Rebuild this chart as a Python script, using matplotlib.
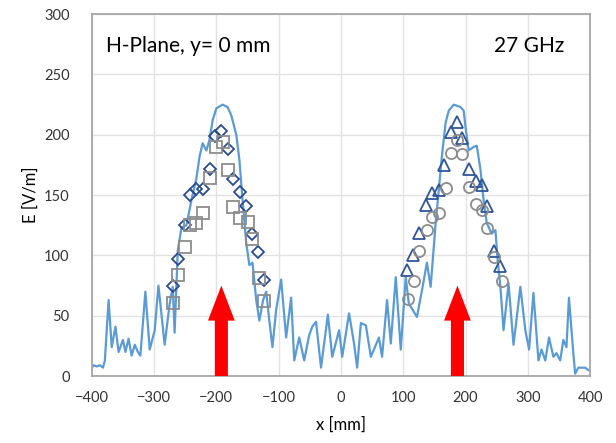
import numpy
from matplotlib import pyplot

# simulated field (blue line)
sim_x = [-400, -397, -392, -387, -382, -379, -373, -368, -362, -357, -350, -346,
         -341, -336, -331, -326, -322, -314, -307, -299, -293, -283, -275, -270,
         -267, -262, -256, -248, -240, -232, -227, -222, -216, -211, -206, -200,
         -190, -182, -176, -168, -163, -158, -152, -147, -142, -136, -131, -125,
         -120, -115, -110, -104, -96, -88, -80, -75, -67, -59, -51, -46,
         -40, -32, -21, -14, -3, 2, 13, 21, 26, 32, 40, 48,
         61, 66, 74, 80, 88, 96, 104, 109, 115, 122, 130, 138,
         144, 152, 157, 162, 168, 173, 181, 192, 197, 200, 205, 213,
         218, 224, 229, 234, 242, 248, 251, 256, 261, 269, 277, 288,
         296, 302, 309, 317, 322, 328, 334, 341, 346, 352, 357, 362,
         366, 373, 376, 381, 386, 392, 397]
sim_E = [7, 9, 8, 9, 7, 13, 63, 24, 41, 20, 30, 20,
         31, 17, 26, 20, 17, 70, 22, 38, 75, 26, 60, 74,
         36, 104, 123, 125, 146, 164, 182, 193, 187, 196, 212, 222,
         225, 223, 216, 200, 179, 146, 110, 92, 94, 63, 46, 63,
         70, 46, 24, 55, 80, 32, 65, 13, 32, 13, 34, 41,
         45, 7, 51, 16, 38, 16, 52, 27, 7, 44, 42, 16,
         32, 16, 63, 27, 82, 22, 82, 60, 55, 49, 71, 94,
         74, 127, 154, 182, 210, 220, 225, 223, 220, 206, 187, 190,
         191, 171, 146, 127, 118, 121, 99, 74, 38, 77, 26, 74,
         38, 22, 69, 13, 22, 13, 32, 16, 19, 13, 30, 24,
         65, 19, 2, 7, 7, 7, 5]

# measurements, left lobe
diam_x = [-270, -262, -251, -242, -232, -222, -211, -202, -192, -182, -173, -162,
          -152, -142, -133, -123]
diam_E = [75, 97, 125, 150, 155, 155, 172, 199, 203, 188, 163, 153,
          141, 118, 103, 80]
sq_x = [-270, -261, -251, -242, -232, -222, -211, -200, -190, -181, -173, -162,
        -150, -142, -131, -123]
sq_E = [61, 84, 107, 125, 127, 135, 164, 190, 194, 171, 140, 131,
        128, 114, 81, 62]

# measurements, right lobe
tri_x = [106, 115, 125, 136, 146, 157, 166, 176, 186, 195, 205, 216,
         226, 235, 245, 256]
tri_E = [88, 100, 119, 142, 152, 154, 175, 202, 211, 197, 172, 162,
         158, 141, 104, 91]
circ_x = [107, 117, 126, 138, 146, 157, 168, 176, 186, 195, 205, 216,
          226, 235, 245, 258]
circ_E = [64, 79, 104, 121, 132, 135, 156, 185, 196, 184, 157, 143,
          138, 123, 99, 79]

arrow_x = [-192, 187]
arrow_top = 75

pyplot.rcParams['font.family'] = ['Lato', 'DejaVu Sans']

fig = pyplot.figure(figsize=(6.16, 4.43), dpi=100)
ax = fig.add_axes([0.149, 0.151, 0.809, 0.817])

ax.plot(sim_x, sim_E, color='#5B9BD5', lw=1.6, solid_joinstyle='round', zorder=2)
ax.plot(diam_x, diam_E, 'D', ms=6, mfc='none', mec='#2B4C8C', mew=1.3, zorder=3)
ax.plot(sq_x, sq_E, 's', ms=8, mfc='none', mec='#8C8C8C', mew=1.3, zorder=3)
ax.plot(tri_x, tri_E, '^', ms=8, mfc='none', mec='#2F5597', mew=1.3, zorder=3)
ax.plot(circ_x, circ_E, 'o', ms=8, mfc='none', mec='#8C8C8C', mew=1.3, zorder=3)

for xa in arrow_x:
    ax.arrow(xa, 0, 0, arrow_top, width=21, head_width=43, head_length=29,
             length_includes_head=True, color='#FF0000', lw=0, zorder=4)

ax.text(-377, 274, 'H-Plane, y= 0 mm', fontsize=15, va='center', ha='left')
ax.text(358, 274, '27 GHz', fontsize=15, va='center', ha='right')

ax.set_xlim(-400, 400)
ax.set_ylim(0, 300)
ax.set_xticks(numpy.arange(-400, 401, 100))
ax.set_yticks(numpy.arange(0, 301, 50))
ax.tick_params(length=0, labelsize=10.5, labelcolor='#333333')
ax.tick_params(axis='x', pad=11)
ax.tick_params(axis='y', pad=16)
ax.grid(color='#E3E3E3', lw=1)
ax.set_axisbelow(True)
for s in ax.spines.values():
    s.set_color('#A6A6A6')
    s.set_linewidth(1.3)
ax.set_xlabel('x [mm]', fontsize=12, labelpad=8)
ax.set_ylabel('E [V/m]', fontsize=12, labelpad=4)

pyplot.savefig('out.png')
